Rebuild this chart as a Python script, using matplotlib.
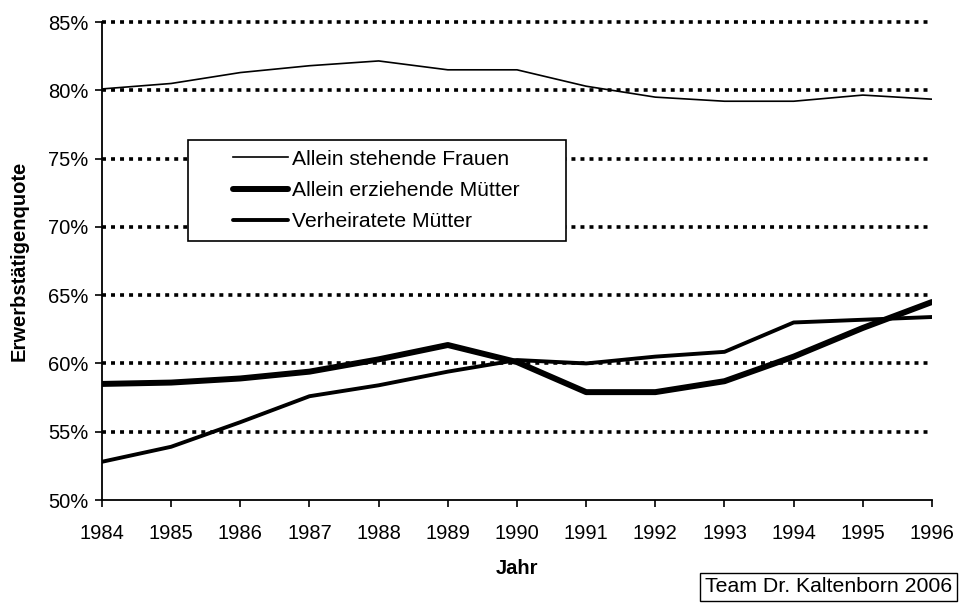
import matplotlib
matplotlib.use("Agg")
import matplotlib.pyplot as plt
from matplotlib.ticker import FuncFormatter
from matplotlib.patches import Rectangle

plt.rcParams['font.family'] = ['Liberation Sans', 'DejaVu Sans']

# Data
jahre = [1984, 1985, 1986, 1987, 1988, 1989, 1990, 1991, 1992, 1993, 1994, 1995, 1996]
allein_stehend = [80.1, 80.5, 81.3, 81.8, 82.15, 81.5, 81.5, 80.3, 79.5, 79.2, 79.2, 79.65, 79.35]
allein_erziehend = [58.5, 58.6, 58.9, 59.4, 60.3, 61.35, 60.1, 57.9, 57.9, 58.7, 60.5, 62.6, 64.5]
verheiratet = [52.8, 53.9, 55.7, 57.6, 58.4, 59.4, 60.25, 60.0, 60.5, 60.85, 63.0, 63.2, 63.4]
labels = ["Allein stehende Frauen", "Allein erziehende Mütter", "Verheiratete Mütter"]

fs = 14.5

fig = plt.figure(figsize=(9.64, 6.10), dpi=100)
ax = fig.add_axes([0.1058, 0.1803, 0.8610, 0.7836])

# dotted grid
for v in range(55, 90, 5):
    ax.axhline(v, color='black', lw=2.6, linestyle=(0, (1.1, 1.4)), zorder=1, clip_on=False)

ax.plot(jahre, allein_stehend, color='black', lw=1.2, label=labels[0], zorder=3)
ax.plot(jahre, allein_erziehend, color='black', lw=4.3, label=labels[1], zorder=3,
        solid_capstyle='round')
ax.plot(jahre, verheiratet, color='black', lw=2.8, label=labels[2], zorder=3,
        solid_capstyle='round')

ax.set_xlim(1984, 1996)
ax.set_ylim(50, 85)
ax.set_xticks(jahre)
ax.set_yticks(range(50, 90, 5))
ax.yaxis.set_major_formatter(FuncFormatter(lambda v, p: "%d%%" % v))
ax.tick_params(axis='both', labelsize=fs, direction='out', length=5, width=1.2, color='black')
ax.tick_params(axis='x', pad=12)
ax.tick_params(axis='y', pad=5)
for s in ['top', 'right']:
    ax.spines[s].set_visible(False)
for s in ['left', 'bottom']:
    ax.spines[s].set_linewidth(1.3)

ax.set_xlabel("Jahr", fontsize=fs, fontweight='bold', labelpad=12)
ax.set_ylabel("Erwerbstätigenquote", fontsize=fs, fontweight='bold', labelpad=14)

# legend frame drawn separately, entries placed inside
frame = Rectangle((0.1036, 0.5418), 0.559 - 0.1036, 0.7531 - 0.5418, transform=ax.transAxes,
                  facecolor='white', edgecolor='black', lw=1.2, zorder=4)
ax.add_patch(frame)
leg = ax.legend(loc='upper left', bbox_to_anchor=(0.1578, 0.733), borderaxespad=0,
                borderpad=0, frameon=False, fontsize=15.2, handlelength=2.6,
                handletextpad=0.2, labelspacing=0.58)
leg.set_zorder(5)

fig.text(0.9875, 1 - 587 / 610, "Team Dr. Kaltenborn 2006", fontsize=15.3, ha='right', va='center',
         bbox=dict(boxstyle='square,pad=0.22', facecolor='white', edgecolor='black', lw=1.0))

fig.savefig("out.png", dpi=100)
